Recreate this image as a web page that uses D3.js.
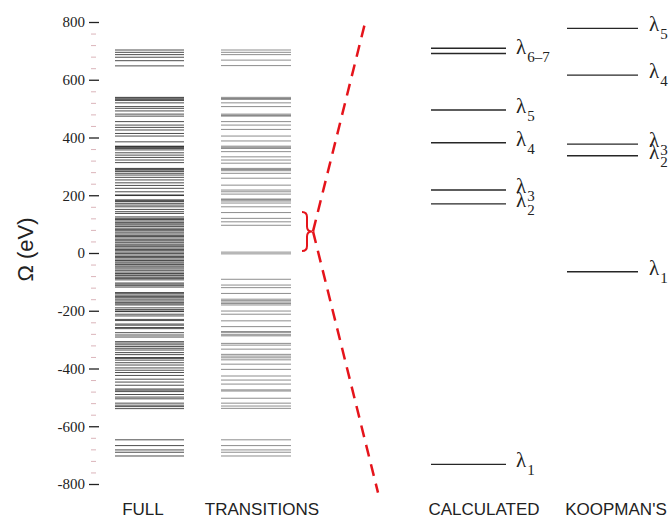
<!DOCTYPE html>
<html>
<head>
<meta charset="utf-8">
<script src="https://cdn.jsdelivr.net/npm/d3@7"></script>
<style>
  html, body { margin: 0; padding: 0; background: #fff; }
  svg { display: block; }
</style>
</head>
<body>
<svg id="chart" width="671" height="519"></svg>
<script>
// Energy levels (eV)
const fullLevels = [
  703, 695, 687, 678, 666, 648,
  539, 536, 532, 528, 520, 507, 501, 492, 481, 474, 455, 443, 435, 426, 414, 405,
  385, 370, 368, 366, 362, 357, 347, 339, 331, 322, 313, 293, 290, 287, 282, 276,
  270, 262, 253, 243, 234, 224, 212, 201, 199, 184, 181, 178, 172, 166, 160, 151,
  143, 137,
  125, 120, 116, 111, 106, 101, 97, 92, 86, 81, 77, 72, 66, 61, 57, 52, 46, 42,
  37, 31, 27, 22, 17, 12, 8, 3, -2, -7, -12, -16, -21, -26, -31, -35, -40, -45,
  -49, -55, -60, -66, -71, -76, -79, -84, -88, -93, -104, -108, -113, -118,
  -137, -141, -146, -151, -155, -160, -166, -171, -176, -180, -190, -196, -201,
  -203, -212, -218, -230, -234, -246, -250, -258, -262, -276, -284, -291, -307,
  -312, -318, -324, -330, -336, -345, -352, -362, -365, -371, -380, -388, -398,
  -406, -414, -424, -437, -447, -458, -471, -475, -480, -490, -499, -505, -520,
  -527, -532, -539,
  -647, -667, -682, -690, -703
];

const transitionLevels = [
  703, 695, 687, 668, 649,
  539, 535, 532, 520, 507, 481, 477, 474, 455, 443, 428, 405, 388, 370, 366, 362,
  351, 333, 322, 311, 293, 289, 285, 276, 259, 235, 218, 212, 204, 187, 184, 180,
  173, 160, 140, 120, 108, 96,
  3, -3,
  -91, -111, -120, -140, -160, -165, -170, -175, -180, -201, -212, -235, -255,
  -272, -276, -283, -287, -313, -319, -333, -351, -357, -363, -370, -385, -403,
  -426, -440, -454, -474, -478, -503, -520, -530, -538,
  -647, -667, -682, -690, -703
];

const calculatedLevels = [-732, 170, 218, 382, 495, 691, 709];
const calculatedLabelValues = [-732, 170, 218, 382, 495, 700];
const calculatedLabelSubs = ['1', '2', '3', '4', '5', '6\u20137'];

const koopmanLevels = [-65, 337, 377, 616, 778];
const koopmanLabelSubs = ['1', '2', '3', '4', '5'];

const majorTicks = [-800, -600, -400, -200, 0, 200, 400, 600, 800];
const columnNames = ['FULL', 'TRANSITIONS', 'CALCULATED', "KOOPMAN'S"];

// red guide: bracket around the low transitions and the two dashed lines
const bracketRange = [142, 7];
const dashTip = 75;
const dashEnds = [810, -830];

const svg = d3.select('#chart');
const y = d3.scaleLinear().domain([-800, 800]).range([484, 22]);

// column placement in pixels
const cols = {
  FULL: [115, 184],
  TRANSITIONS: [221, 291],
  CALCULATED: [431, 506],
  "KOOPMAN'S": [567, 638]
};
const labelX = { FULL: 143, TRANSITIONS: 262, CALCULATED: 484, "KOOPMAN'S": 616 };

// minor ticks
const minorTicks = d3.range(-800, 801, 40).filter(d => d % 200 !== 0);
const minorAxis = svg.append('g')
  .attr('transform', 'translate(96,0)')
  .call(d3.axisLeft(y).tickValues(minorTicks).tickSize(5).tickFormat(''));
minorAxis.select('.domain').remove();
minorAxis.selectAll('line').attr('stroke', '#dbb4ba').attr('stroke-width', 1);

// major ticks
const axis = svg.append('g')
  .attr('transform', 'translate(99,0)')
  .call(d3.axisLeft(y).tickValues(majorTicks).tickSize(10).tickPadding(4).tickFormat(d => String(d)));
axis.select('.domain').remove();
axis.selectAll('line').attr('stroke', '#222').attr('stroke-width', 1.3);
axis.selectAll('text')
  .attr('font-family', '"Liberation Serif", "Times New Roman", serif')
  .attr('font-size', 15)
  .attr('fill', '#222');

// axis title
svg.append('text')
  .attr('transform', `translate(33,${y(12)}) rotate(-90)`)
  .attr('text-anchor', 'middle')
  .attr('font-family', '"Liberation Sans", Arial, sans-serif')
  .attr('font-size', 22)
  .attr('fill', '#222')
  .text('\u03A9 (eV)');

// FULL and TRANSITIONS spectra, plus the two level diagrams
function drawLevels(levels, key, opacity, width) {
  svg.append('g').selectAll('line')
    .data(levels)
    .enter().append('line')
    .attr('x1', cols[key][0])
    .attr('x2', cols[key][1])
    .attr('y1', d => y(d))
    .attr('y2', d => y(d))
    .attr('stroke', '#000')
    .attr('stroke-opacity', opacity)
    .attr('stroke-width', width);
}
drawLevels(fullLevels, 'FULL', 0.7, 1);
drawLevels(transitionLevels, 'TRANSITIONS', 0.45, 1);
drawLevels(calculatedLevels, 'CALCULATED', 0.85, 1.4);
drawLevels(koopmanLevels, "KOOPMAN'S", 0.85, 1.4);

// lambda labels
function drawLabels(values, subs, x0) {
  const t = svg.append('g').selectAll('text')
    .data(values)
    .enter().append('text')
    .attr('x', x0)
    .attr('y', d => y(d) + 3)
    .attr('font-family', '"Liberation Serif", "Times New Roman", serif')
    .attr('font-size', 21)
    .attr('fill', '#222');
  t.append('tspan').text('\u03BB');
  t.append('tspan')
    .attr('font-size', 15)
    .attr('dx', 1)
    .attr('dy', 8)
    .text((d, i) => subs[i]);
}
drawLabels(calculatedLabelValues, calculatedLabelSubs, cols.CALCULATED[1] + 10);
drawLabels(koopmanLevels, koopmanLabelSubs, cols["KOOPMAN'S"][1] + 11);

// red bracket
const bx = 302, bw = 10;
const by1 = y(bracketRange[0]), by2 = y(bracketRange[1]);
const bym = (by1 + by2) / 2, r = 5;
const bp = d3.path();
bp.moveTo(bx, by1);
bp.quadraticCurveTo(bx + bw / 2, by1, bx + bw / 2, by1 + r);
bp.lineTo(bx + bw / 2, bym - r);
bp.quadraticCurveTo(bx + bw / 2, bym, bx + bw, bym);
bp.quadraticCurveTo(bx + bw / 2, bym, bx + bw / 2, bym + r);
bp.lineTo(bx + bw / 2, by2 - r);
bp.quadraticCurveTo(bx + bw / 2, by2, bx, by2);
svg.append('path')
  .attr('d', bp.toString())
  .attr('fill', 'none')
  .attr('stroke', '#e5141b')
  .attr('stroke-width', 2);

// red dashed lines
const tipX = bx + bw + 1;
const endX = [366, 378];
dashEnds.forEach((v, i) => {
  svg.append('line')
    .attr('x1', tipX)
    .attr('y1', y(dashTip))
    .attr('x2', endX[i])
    .attr('y2', y(v))
    .attr('stroke', '#e5141b')
    .attr('stroke-width', 2.5)
    .attr('stroke-dasharray', '12,8');
});

// column labels
svg.append('g').selectAll('text')
  .data(columnNames)
  .enter().append('text')
  .attr('x', d => labelX[d])
  .attr('y', 515)
  .attr('text-anchor', 'middle')
  .attr('font-family', '"Liberation Sans", Arial, sans-serif')
  .attr('font-size', 17)
  .attr('fill', '#222')
  .text(d => d);
</script>
</body>
</html>
